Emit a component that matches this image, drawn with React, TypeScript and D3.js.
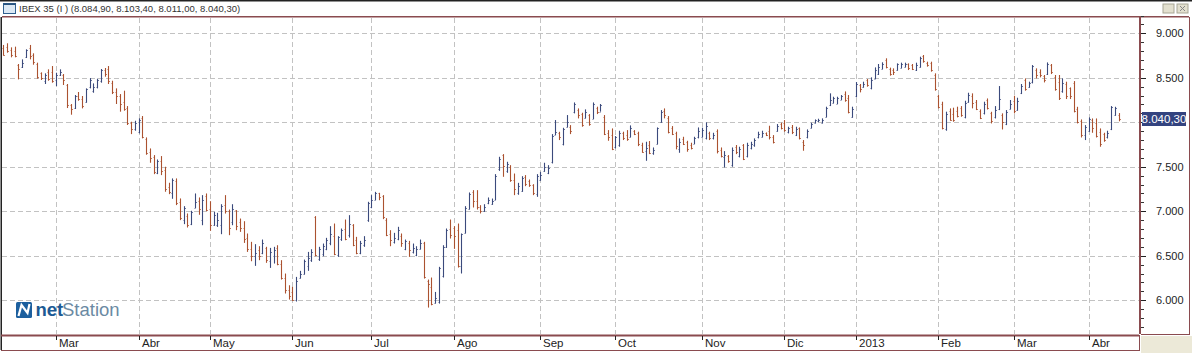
import React from "react";
import * as d3 from "d3";

const highs = [
8869,8888,8842,8850,8655,8707,8820,8869,8775,8670,8561,8550,8595,8632,8557,8595,8542,8430,8205,8306,8340,8295,8381,8497,8437,8490,8599,8610,8632,8467,8381,8317,8355,8182,8006,8017,8044,8070,7830,7706,7631,7582,7620,7500,7320,7369,7369,7144,7057,6975,7005,7200,7155,
7181,7200,7113,6993,6982,7079,7181,7019,7079,7012,6918,6888,6750,6656,6630,6607,6682,6600,6588,6600,6618,6450,6300,6168,6150,6262,6330,6457,6543,6573,6945,6600,6637,6701,6832,6862,6720,6806,6907,6956,6855,6712,6667,6720,7106,7181,7218,7207,7181,6922,6787,6757,6825,
6750,6682,6667,6637,6607,6682,6656,6232,6255,6093,6375,6618,6806,6907,6832,6862,6750,7057,7211,7237,7237,7068,7079,7155,7143,7417,7612,7642,7556,7518,7424,7319,7394,7406,7357,7304,7417,7443,7545,7518,7867,8025,7893,7938,8081,7968,8223,8156,8107,8145,8092,8223,8175,
8205,8081,7912,7931,7845,7905,7894,7912,7965,7912,7894,7770,7781,7789,7717,7942,8137,8156,8070,7957,7894,7819,7837,7792,7770,7837,7942,7939,7999,7894,7882,7920,7717,7676,7631,7717,7744,7725,7755,7770,7781,7819,7894,7905,7886,7961,7856,7980,7995,8025,7950,7969,7950,7942,7800,7920,7995,8032,8040,
8044,8175,8325,8287,8287,8306,8347,8306,8175,8452,8430,8456,8486,8505,8617,8655,8674,8719,8614,8606,8662,8670,8670,8662,8655,8670,8737,8756,8681,8681,8550,8306,8231,8119,8156,8164,8175,8182,8242,8332,8325,8250,8145,
8231,8268,8118,8182,8407,8100,8137,8250,8298,8276,8430,8493,8456,8643,8606,8595,8531,8673,8655,8531,8531,8493,8456,8392,8463,8174,8032,7968,8055,8043,8043,7931,7882,7905,8182,8174,8103.4,
];
const lows = [
8749,8782,8730,8730,8482,8610,8722,8707,8647,8490,8475,8430,8467,8445,8407,8520,8419,8160,8085,8149,8242,8156,8220,8381,8332,8381,8445,8512,8430,8317,8205,8119,8130,7969,7867,7905,7875,7819,7635,7545,7417,7417,7406,7219,7192,7140,7069,6900,6855,6817,6844,7035,6960,
6843,7001,6780,6836,6824,6742,6974,6731,6843,6787,6768,6644,6543,6438,6386,6450,6517,6420,6363,6412,6393,6232,6075,6007,5992,5985,6243,6288,6330,6431,6494,6442,6494,6562,6618,6506,6487,6667,6674,6704,6607,6517,6517,6600,6881,7034,7124,7124,6911,6720,6607,6637,6674,
6600,6562,6487,6525,6495,6570,6243,5917,5943,5962,5962,6255,6588,6693,6577,6367,6300,6750,7019,7042,7019,6975,6993,7079,7072,7125,7454,7387,7432,7331,7181,7185,7218,7282,7274,7181,7162,7342,7443,7417,7537,7856,7800,7740,7942,7867,8100,8043,7950,8043,7961,8036,8092,
8119,7856,7792,7687,7706,7725,7800,7792,7830,7856,7732,7657,7567,7642,7635,7751,7995,8044,7875,7856,7695,7657,7744,7669,7695,7755,7819,7830,7807,7800,7807,7650,7605,7492,7545,7500,7642,7605,7575,7605,7695,7725,7819,7830,7845,7807,7762,7894,7920,7894,7875,7867,7845,7807,7680,7819,7931,7987,8002,
7987,8055,8182,8212,8205,8250,8231,8100,8051,8280,8336,8389,8400,8370,8486,8531,8595,8606,8524,8531,8580,8606,8617,8587,8587,8576,8614,8670,8625,8569,8355,8156,7920,7905,8017,8006,8055,8062,8044,8220,8156,8137,8036,
8088,8144,7987,8043,8137,7919,7968,8144,8100,8130,8317,8355,8388,8437,8493,8505,8448,8531,8542,8355,8250,8332,8261,8261,8111,7987,7829,7800,7893,7882,7829,7725,7781,7818,7912,8073,8011,
];
const opens = [
8840,8850,8810,8800,8640,8625,8730,8830,8760,8650,8550,8460,8570,8560,8470,8530,8530,8420,8190,8160,8300,8260,8230,8400,8350,8400,8460,8590,8600,8440,8340,8290,8230,8160,7990,7920,7890,8050,7810,7670,7610,7430,7560,7460,7270,7200,7340,7100,6900,6950,6860,7040,7120,
6900,7170,7030,6850,6840,6850,7070,7000,6880,7010,6880,6810,6700,6580,6500,6560,6530,6590,6440,6500,6590,6410,6250,6110,6090,6000,6250,6300,6380,6450,6930,6460,6520,6580,6640,6720,6510,6690,6800,6730,6840,6680,6530,6620,6900,7050,7130,7200,7170,6900,6740,6650,6690,
6720,6570,6640,6540,6510,6580,6640,6220,6150,5970,5980,6270,6600,6800,6810,6790,6380,6760,7030,7220,7120,7050,7000,7090,7080,7130,7470,7630,7450,7500,7350,7200,7230,7380,7340,7290,7190,7350,7450,7430,7550,7860,7880,7760,7950,7950,8110,8140,8090,8050,8080,8040,8160,
8120,8060,7880,7860,7720,7740,7880,7860,7840,7900,7880,7750,7680,7740,7650,7760,8000,8130,8050,7930,7880,7700,7810,7780,7750,7760,7830,7840,7820,7880,7820,7900,7690,7610,7620,7520,7720,7620,7740,7620,7710,7740,7830,7840,7880,7900,7840,7900,7980,7990,7890,7950,7860,7930,7780,7830,7940,7995,8010,
7995,8060,8190,8220,8210,8255,8320,8270,8060,8290,8420,8395,8470,8380,8490,8540,8600,8700,8600,8590,8590,8610,8620,8650,8640,8590,8620,8740,8670,8670,8530,8290,8210,7920,8130,8090,8130,8160,8060,8230,8290,8230,8130,
8100,8250,8100,8060,8150,8080,7980,8150,8240,8140,8325,8470,8395,8450,8590,8570,8520,8540,8640,8510,8450,8350,8430,8380,8440,8150,8010,7860,7900,8030,7990,7890,7870,7830,7920,8080,8084.9,
];
const closes = [
8760,8800,8760,8745,8600,8670,8810,8740,8680,8510,8500,8530,8490,8460,8530,8570,8480,8190,8150,8290,8260,8180,8370,8470,8400,8470,8590,8540,8460,8340,8290,8200,8150,7990,7920,7990,8020,7840,7660,7600,7440,7560,7450,7250,7220,7350,7090,6920,7040,6850,6990,7100,7020,
7130,7010,6850,6960,6900,7060,7000,6810,7030,6830,6810,6690,6570,6500,6530,6500,6640,6450,6540,6560,6410,6250,6110,6050,6000,6220,6290,6440,6470,6540,6510,6570,6610,6680,6740,6520,6710,6790,6690,6860,6620,6530,6640,6680,7090,7130,7210,7160,6930,6730,6680,6700,6790,
6640,6660,6560,6590,6580,6640,6260,6180,5960,6020,6360,6600,6790,6730,6720,6390,6740,7040,7190,7110,7050,7000,7050,7130,7120,7400,7590,7510,7530,7350,7250,7280,7370,7310,7290,7200,7400,7410,7500,7490,7850,7890,7830,7920,8000,7900,8200,8080,7970,8120,7980,8210,8120,
8190,7870,7830,7700,7830,7880,7820,7810,7940,7870,7760,7670,7710,7660,7690,7930,8120,8080,7890,7870,7730,7780,7760,7700,7710,7820,7900,7910,7960,7820,7860,7680,7620,7630,7570,7690,7670,7700,7590,7750,7760,7800,7870,7880,7855,7840,7780,7960,7940,7910,7930,7890,7920,7820,7750,7900,7980,8020,8030,
8020,8160,8250,8270,8270,8290,8250,8110,8150,8430,8370,8430,8420,8480,8590,8620,8660,8620,8540,8560,8650,8650,8660,8610,8600,8640,8720,8690,8640,8590,8370,8170,7930,8090,8030,8030,8070,8080,8220,8310,8220,8150,8050,
8200,8160,8010,8140,8260,8000,8120,8200,8130,8240,8410,8370,8440,8630,8530,8530,8480,8660,8560,8370,8270,8440,8300,8300,8130,8000,7860,7950,8040,7930,7850,7760,7800,7880,8170,8160,8040.3,
];

const priceTicks = [6000, 6500, 7000, 7500, 8000, 8500, 9000];
const hiddenLabel = 8000; // covered by the last-price box in the reference
const minorTicks = [5700,5800,5900,6100,6200,6300,6400,6600,6700,6800,6900,7100,7200,7300,7400,7600,7700,7800,7900,8100,8200,8300,8400,8600,8700,8800,8900,9100,9200];
const monthLabels = ["Mar","Abr","May","Jun","Jul","Ago","Sep","Oct","Nov","Dic","2013","Feb","Mar","Abr"];
const monthStarts = [14,36,55,77,98,120,143,163,186,208,227,249,269,289];
const title = "IBEX 35 (I ) (8.084,90, 8.103,40, 8.011,00, 8.040,30)";
const lastPrice = "8.040,30";
const lastValue = 8040.3;

const W = 1192, H = 353;
const x = d3.scaleLinear().domain([0, highs.length - 1]).range([3.33, 1118.7]);
const y = d3.scaleLinear().domain([6000, 9000]).range([300.2, 33.3]);
const fmt = (v: number) => d3.format(",")(v).replace(",", ".");
const px = (v: number) => Math.round(v) + 0.5;
const UP = "#3b4a7c", DOWN = "#ab5230", FRAME = "#8a4b4f", GRID = "#c2c2c2";
const FONT = "'Liberation Sans', Arial, sans-serif";

export default function App() {
  return (
    <svg width={W} height={H} viewBox={`0 0 ${W} ${H}`} style={{ position: "absolute", left: 0, top: 0, display: "block", background: "#fff" }} fontFamily={FONT}>
      {/* window chrome */}
      <rect x={0} y={0} width={W} height={1.5} fill="#222" />
      <rect x={1141} y={336} width={51} height={17} fill="#ece9d8" />
      <rect x={3.5} y={3.5} width={12} height={10} fill="#dbe8f4" stroke="#2f5f8f" />
      <rect x={3.5} y={3.5} width={12} height={1.5} fill="#27527f" />
      <text x={19} y={11.5} fontSize={9.5} fill="#333">{title}</text>
      <rect x={1163} y={4} width={11} height={9} fill="#e3e0cf" stroke="#a8a695" />
      <rect x={1177} y={4} width={11} height={9} fill="#e3e0cf" stroke="#a8a695" />
      <path d="M1180 6l5 5M1185 6l-5 5" stroke="#888" />
      {/* grid */}
      {priceTicks.map((t) => (
        <line key={t} x1={2} x2={1139} y1={px(y(t))} y2={px(y(t))} stroke={GRID} strokeDasharray="5 3" />
      ))}
      {monthStarts.map((m) => (
        <line key={m} x1={px(x(m))} x2={px(x(m))} y1={18} y2={334} stroke={GRID} strokeDasharray="5 3" />
      ))}
      {/* OHLC bars */}
      {highs.map((h, i) => {
        const cx = px(x(i));
        const c = closes[i] < opens[i] ? DOWN : UP;
        return (
          <g key={i} stroke={c}>
            <line x1={cx} x2={cx} y1={y(h)} y2={y(lows[i])} strokeWidth={1.1} />
            <line x1={cx - 1} x2={cx} y1={px(y(opens[i]))} y2={px(y(opens[i]))} strokeOpacity={0.75} />
            <line x1={cx} x2={cx + 1.5} y1={px(y(closes[i]))} y2={px(y(closes[i]))} strokeOpacity={0.75} />
          </g>
        );
      })}
      {/* logo */}
      <g>
        <rect x={16} y={302} width={16} height={16} rx={1.5} fill="#1c5f9e" />
        <path d="M18.5 316l3-11 6 8 2-9" fill="none" stroke="#fff" strokeWidth={2.2} />
        <text x={35.5} y={316} fontSize={18.5} fill="#1c5a94" fontWeight={700}>net</text>
        <text x={62} y={316} fontSize={18.5} fill="#6b8aa3">Station</text>
      </g>
      {/* frames */}
      <rect x={2} y={16} width={1138} height={1.5} fill={FRAME} />
      <rect x={1140} y={16} width={49} height={1.5} fill={FRAME} />
      <rect x={0.5} y={17} width={1.5} height={333} fill="#222" />
      <rect x={1139} y={17} width={2} height={317} fill={FRAME} />
      <rect x={1} y={334.5} width={1138} height={2} fill={FRAME} />
      <rect x={1} y={350} width={1139} height={1} fill={FRAME} />
      <rect x={1139} y={335} width={1} height={16} fill={FRAME} />
      <rect x={1141} y={334} width={49} height={1} fill={FRAME} />
      <rect x={1189} y={17} width={1} height={317} fill={FRAME} />
      {/* y axis */}
      {minorTicks.map((t) => (
        <line key={t} x1={1141} x2={1144} y1={px(y(t))} y2={px(y(t))} stroke="#333" />
      ))}
      {priceTicks.map((t) => (
        <g key={t}>
          <line x1={1141} x2={1146} y1={px(y(t))} y2={px(y(t))} stroke="#222" />
          {t !== hiddenLabel && (
            <text x={1183.5} y={y(t) + 4} fontSize={11} textAnchor="end" fill="#222">{fmt(t)}</text>
          )}
        </g>
      ))}
      <rect x={1142} y={112} width={44} height={14} fill="#33437f" />
      <text x={1164} y={y(lastValue) + 4} fontSize={11.5} textAnchor="middle" fill="#fff">{lastPrice}</text>
      {/* x axis */}
      {monthStarts.map((m, i) => (
        <g key={m}>
          <line x1={px(x(m))} x2={px(x(m))} y1={336} y2={340} stroke="#222" />
          <text x={px(x(m)) + 2.5} y={347} fontSize={11.5} fill="#222">{monthLabels[i]}</text>
        </g>
      ))}
    </svg>
  );
}
